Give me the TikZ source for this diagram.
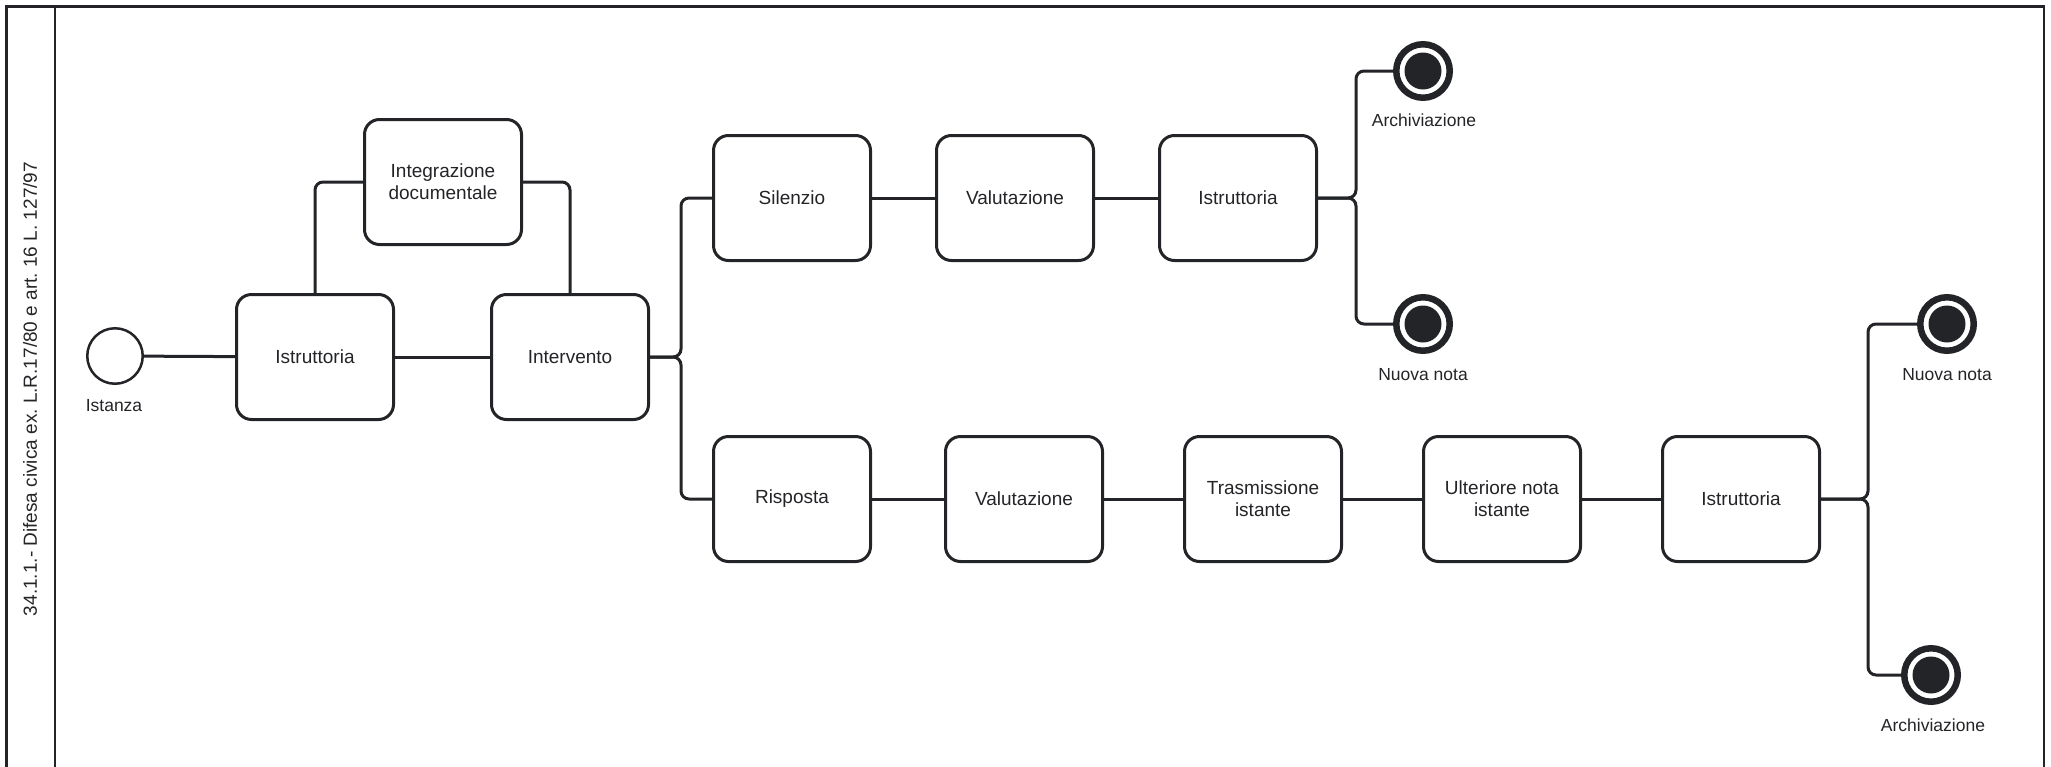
\documentclass[tikz,border=0pt]{standalone}
\usepackage{fontspec}
\setmainfont{Liberation Sans}
\frenchspacing
\definecolor{ink}{HTML}{232427}
\begin{document}
\begin{tikzpicture}[x=1pt, y=-1pt,
      task/.style={draw=ink, line width=3pt, rounded corners=15pt, text=ink,
                   minimum width=157pt, minimum height=125pt, align=center,
                   font=\fontsize{19}{22}\selectfont},
      start/.style={circle, draw=ink, line width=2.5pt, minimum size=55.5pt, inner sep=0pt},
      stop/.style={circle, draw=ink, line width=6.5pt, minimum size=53.5pt, inner sep=0pt,
                   path picture={\fill[ink] (path picture bounding box.center) circle (18.5pt);}},
      lbl/.style={text=ink, font=\fontsize{17.5}{20}\selectfont},
      flow/.style={draw=ink, line width=3pt, rounded corners=8pt}]
      \useasboundingbox (0, 0) rectangle (2051, 766);
      \draw[ink, line width=2.5pt] (6.5, 6.5) rectangle (2044, 800)
                                   (55, 6.5) -- (55, 800);
      \node[rotate=90, text=ink, font=\fontsize{19}{22}\selectfont] (pooltitle) at (30, 389)
            {34.1.1.- Difesa civica ex. L.R.17/80 e art. 16 L. 127/97};
      % upper part
      \node[start] (istanza) at (115, 356) {};
      \node[lbl] (istanzalbl) at (114, 406) {Istanza};
      \node[task] (istr1)    at (315, 357)  {Istruttoria};
      \node[task] (integr)   at (443, 182)  {Integrazione\\documentale};
      \node[task] (interv)   at (570, 357)  {Intervento};
      \node[task] (silenzio) at (792, 198)  {Silenzio};
      \node[task] (valut1)   at (1015, 198) {Valutazione};
      \node[task] (istr2)    at (1238, 198) {Istruttoria};
      \node[stop] (archA)    at (1423, 71)  {};
      \node[lbl]  (archAlbl) at (1424, 120) {Archiviazione};
      \node[stop] (notaA)    at (1423, 324) {};
      \node[lbl]  (notaAlbl) at (1423, 375) {Nuova nota};
      % lower part
      \node[task] (risposta) at (792, 499)  {Risposta};
      \node[task] (valut2)   at (1024, 499) {Valutazione};
      \node[task] (trasm)    at (1263, 499) {Trasmissione\\istante};
      \node[task] (ulter)    at (1502, 499) {Ulteriore nota\\istante};
      \node[task] (istr3)    at (1741, 499) {Istruttoria};
      \node[stop] (notaB)    at (1947, 324) {};
      \node[lbl]  (notaBlbl) at (1947, 375) {Nuova nota};
      \node[stop] (archB)    at (1931, 675) {};
      \node[lbl]  (archBlbl) at (1933, 725) {Archiviazione};
      \coordinate (fork1) at (681, 357);
      \coordinate (fork2) at (1356, 198);
      \coordinate (fork3) at (1868, 499);
      \draw[flow] (istanza) -- (istr1);
      \draw[flow] (istr1) -- (interv);
      \draw[flow] (istr1.north) |- (integr.west);
      \draw[flow] (integr.east) -| (interv.north);
      \draw[flow] (interv.east) -- (fork1) |- (silenzio.west);
      \draw[flow] (interv.east) -- (fork1) |- (risposta.west);
      \draw[flow] (silenzio) -- (valut1);
      \draw[flow] (valut1) -- (istr2);
      \draw[flow] (istr2.east) -- (fork2) |- (archA);
      \draw[flow] (istr2.east) -- (fork2) |- (notaA);
      \draw[flow] (risposta) -- (valut2);
      \draw[flow] (valut2) -- (trasm);
      \draw[flow] (trasm) -- (ulter);
      \draw[flow] (ulter) -- (istr3);
      \draw[flow] (istr3.east) -- (fork3) |- (notaB);
      \draw[flow] (istr3.east) -- (fork3) |- (archB);
\end{tikzpicture}
\end{document}
